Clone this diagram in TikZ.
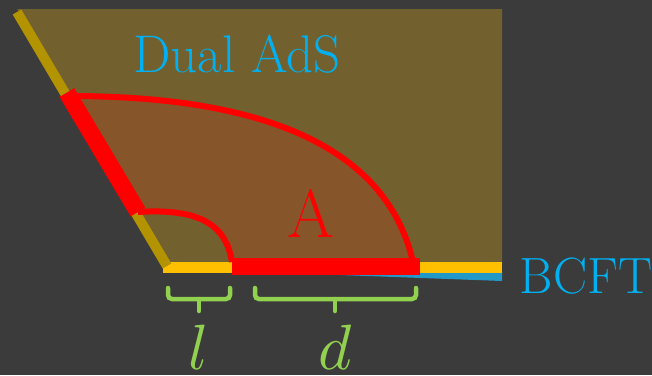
\documentclass[tikz,border=0pt]{standalone}
\usepackage{fontspec}
\usepackage{graphicx}
\usetikzlibrary{calc}
\begin{document}
\begin{tikzpicture}[x=1pt,y=-1pt,
  lbl/.style={inner sep=0pt,anchor=base},
  brace/.style={draw=bracegreen,line width=4.5pt,line cap=round,rounded corners=4pt}]
\definecolor{bg}{HTML}{3B3B3B}
\definecolor{olive}{HTML}{72612E}
\definecolor{regA}{HTML}{87552A}
\definecolor{brane}{HTML}{B39400}
\definecolor{bcftyellow}{HTML}{FFC000}
\definecolor{bcftblue}{HTML}{2198C8}
\definecolor{txtblue}{HTML}{00B0F0}
\definecolor{bracegreen}{HTML}{92D050}
\fill[bg] (0,0) rectangle (652,375);
\useasboundingbox (0,0) rectangle (652,375);
% coordinates
\coordinate (bt) at (17,12);
\coordinate (bb) at (167,266);
\coordinate (r1) at (69,96);
\coordinate (r2) at (138,212);
\coordinate (p1) at (232,266);
\coordinate (p2) at (418,266);
\coordinate (tr) at (502,9);
\coordinate (br) at (502,267);
% dual AdS region
\fill[olive] (bt|-tr) -- (tr) -- (br) -- (bb) -- cycle;
% region A
\fill[regA] (r1) .. controls (250,96) and (385,140) .. (413,264) -- (p1) -- (232,262) .. controls (226,225) and (200,208) .. (r2) -- cycle;
% blue wedge
\fill[bcftblue] (260,272) -- (502,272) -- (502,281) -- cycle;
% yellow boundary
\draw[bcftyellow,line width=11pt] (163,267) -- (br);
% brane
\draw[brane,line width=10pt] (bt) -- (bb);
% red
\draw[red,line width=6pt] (r1) .. controls (250,96) and (385,140) .. (413,262);
\draw[red,line width=6pt] (r2) .. controls (200,208) and (226,225) .. (232,262);
\draw[red,line width=17pt] ($(r1)!-0.03!(r2)$) -- (r2);
\draw[red,line width=17pt] (p1) -- (420,266);
% braces
\draw[brace] (168,288) -- (168,299) -- (230,299) -- (230,288);
\draw[brace] (199,299) -- (199,311);
\draw[brace] (255,288) -- (255,299) -- (416,299) -- (416,288);
\draw[brace] (335,299) -- (335,311);
% labels
\node[lbl,text=txtblue,font=\fontsize{53}{53}\selectfont] (dual) at (237,72) {Dual AdS};
\node[lbl,text=txtblue,font=\fontsize{51}{51}\selectfont] (bcft) at (586,293) {BCFT};
\node[lbl,text=red,font=\fontsize{68}{68}\selectfont] (A) at (311,237) {A};
\node[lbl,text=bracegreen] (l) at (199,369) {\scalebox{6.4}{$l$}};
\node[lbl,text=bracegreen] (d) at (335,369) {\scalebox{6.4}{$d$}};
\end{tikzpicture}
\end{document}
